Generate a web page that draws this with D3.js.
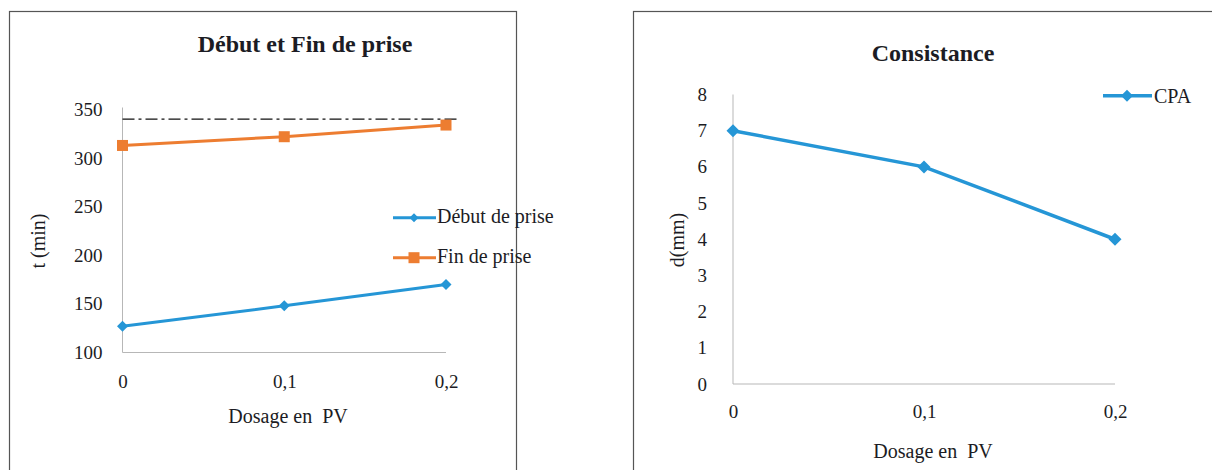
<!DOCTYPE html>
<html>
<head>
<meta charset="utf-8">
<script src="https://cdn.jsdelivr.net/npm/d3@7"></script>
<style>
  html, body { margin: 0; padding: 0; background: #fff; }
  svg { display: block; font-family: "Liberation Serif", "Times New Roman", serif; }
</style>
</head>
<body>
<svg id="chart" width="1212" height="470"></svg>
<script>
// Setting time chart
const dosages = ["0", "0,1", "0,2"];
const debutPrise = [127, 148, 170];
const finPrise = [313, 322, 334];
const limitLine = 340;
const timeTicks = [100, 150, 200, 250, 300, 350];

// Consistency chart
const consistanceCPA = [7, 6, 4];
const consTicks = [0, 1, 2, 3, 4, 5, 6, 7, 8];

const BLUE = "#2596d6";
const ORANGE = "#ed7d31";
const AXIS = "#b7b7b7";
const TEXT = "#1c1c24";
const TICK_FS = 19;
const LABEL_FS = 20;
const TITLE_FS = 24;

const svg = d3.select("#chart");

// Panel frames
svg.append("rect").attr("x", 9.5).attr("y", 11.5).attr("width", 507).attr("height", 470)
  .attr("fill", "none").attr("stroke", "#555").attr("stroke-width", 1.2);
svg.append("rect").attr("x", 633.5).attr("y", 11.5).attr("width", 600).attr("height", 470)
  .attr("fill", "none").attr("stroke", "#555").attr("stroke-width", 1.2);

function diamond(g, x, y, r, color) {
  g.append("path")
    .attr("d", `M${x},${y - r}L${x + r},${y}L${x},${y + r}L${x - r},${y}Z`)
    .attr("fill", color);
}
function square(g, x, y, r, color) {
  g.append("rect").attr("x", x - r).attr("y", y - r).attr("width", 2 * r).attr("height", 2 * r)
    .attr("fill", color);
}
function styleTicks(axisG) {
  axisG.selectAll("text").attr("font-size", TICK_FS).attr("fill", TEXT)
    .attr("font-family", "Liberation Serif");
}

// ---------- Left: Début et Fin de prise ----------
{
  const g = svg.append("g");
  const x = d3.scalePoint().domain(dosages).range([122.5, 446]);
  const y = d3.scaleLinear().domain([100, 350]).range([352.5, 109.5]);

  g.append("text").attr("x", 305).attr("y", 52).attr("text-anchor", "middle")
    .attr("font-size", TITLE_FS).attr("font-weight", "bold").attr("fill", TEXT)
    .text("Début et Fin de prise");

  const yAxis = g.append("g").attr("transform", `translate(${x.range()[0]},0)`)
    .call(d3.axisLeft(y).tickValues(timeTicks).tickSize(0).tickPadding(20));
  yAxis.select(".domain").attr("stroke", AXIS).attr("d", `M0,${y(350) - 2}V${y(100)}`);
  styleTicks(yAxis);

  const xAxis = g.append("g").attr("transform", `translate(0,${y(100)})`)
    .call(d3.axisBottom(x).tickSize(0).tickPadding(22));
  xAxis.select(".domain").attr("stroke", AXIS).attr("d", `M${x("0")},0H${x("0,2")}`);
  styleTicks(xAxis);

  // reference limit (dash-dot)
  g.append("line").attr("x1", x("0")).attr("x2", 457).attr("y1", y(limitLine)).attr("y2", y(limitLine))
    .attr("stroke", "#111").attr("stroke-width", 1.2).attr("stroke-dasharray", "12,4,3,4");

  const line = d3.line().x((d, i) => x(dosages[i])).y(d => y(d));
  g.append("path").datum(finPrise).attr("d", line).attr("fill", "none")
    .attr("stroke", ORANGE).attr("stroke-width", 3);
  finPrise.forEach((v, i) => square(g, x(dosages[i]), y(v), 5.5, ORANGE));

  g.append("path").datum(debutPrise).attr("d", line).attr("fill", "none")
    .attr("stroke", BLUE).attr("stroke-width", 3);
  debutPrise.forEach((v, i) => diamond(g, x(dosages[i]), y(v), 5.5, BLUE));

  // axis titles
  g.append("text").attr("transform", "translate(45,241) rotate(-90)").attr("text-anchor", "middle")
    .attr("font-size", LABEL_FS).attr("fill", TEXT).text("t (min)");
  g.append("text").attr("x", 288).attr("y", 423).attr("text-anchor", "middle")
    .attr("font-size", LABEL_FS).attr("fill", TEXT).style("white-space", "pre").text("Dosage en  PV");

  // legend
  const lg = g.append("g");
  [["Début de prise", BLUE, diamond, 217.7], ["Fin de prise", ORANGE, square, 257.7]].forEach(([label, c, mk, ly]) => {
    lg.append("line").attr("x1", 393).attr("x2", 436).attr("y1", ly).attr("y2", ly)
      .attr("stroke", c).attr("stroke-width", 3);
    mk(lg, 414, ly, mk === square ? 5.5 : 4.5, c);
    lg.append("text").attr("x", 437).attr("y", ly + 5).attr("font-size", LABEL_FS).attr("fill", TEXT).text(label);
  });
}

// ---------- Right: Consistance ----------
{
  const g = svg.append("g");
  const x = d3.scalePoint().domain(dosages).range([733, 1115]);
  const y = d3.scaleLinear().domain([0, 8]).range([384, 94.5]);

  g.append("text").attr("x", 933).attr("y", 61).attr("text-anchor", "middle")
    .attr("font-size", TITLE_FS).attr("font-weight", "bold").attr("fill", TEXT)
    .text("Consistance");

  const yAxis = g.append("g").attr("transform", `translate(${x.range()[0]},0)`)
    .call(d3.axisLeft(y).tickValues(consTicks).tickSize(0).tickPadding(26));
  yAxis.select(".domain").attr("stroke", AXIS).attr("d", `M0,${y(8)}V${y(0)}`);
  styleTicks(yAxis);

  const xAxis = g.append("g").attr("transform", `translate(0,${y(0)})`)
    .call(d3.axisBottom(x).tickSize(0).tickPadding(21));
  xAxis.select(".domain").attr("stroke", AXIS).attr("d", `M${x("0")},0H${x("0,2")}`);
  styleTicks(xAxis);

  const line = d3.line().x((d, i) => x(dosages[i])).y(d => y(d));
  g.append("path").datum(consistanceCPA).attr("d", line).attr("fill", "none")
    .attr("stroke", BLUE).attr("stroke-width", 3.5);
  consistanceCPA.forEach((v, i) => diamond(g, x(dosages[i]), y(v), 6.5, BLUE));

  g.append("text").attr("transform", "translate(684,240) rotate(-90)").attr("text-anchor", "middle")
    .attr("font-size", LABEL_FS).attr("fill", TEXT).text("d(mm)");
  g.append("text").attr("x", 933).attr("y", 458).attr("text-anchor", "middle")
    .attr("font-size", LABEL_FS).attr("fill", TEXT).style("white-space", "pre").text("Dosage en  PV");

  g.append("line").attr("x1", 1103).attr("x2", 1152).attr("y1", 95.7).attr("y2", 95.7)
    .attr("stroke", BLUE).attr("stroke-width", 3.5);
  diamond(g, 1127, 95.7, 6, BLUE);
  g.append("text").attr("x", 1154).attr("y", 102.7).attr("font-size", LABEL_FS).attr("fill", TEXT).text("CPA");
}
</script>
</body>
</html>
